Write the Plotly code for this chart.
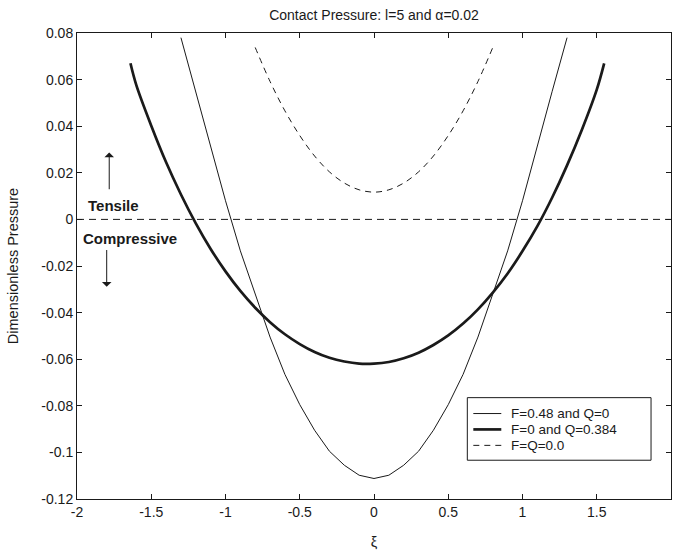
import plotly.graph_objects as go

# ---- data ----
x_thin = [-1.3, -1.2, -1.1, -1.0, -0.9, -0.8, -0.7, -0.6, -0.5, -0.4, -0.3, -0.2, -0.1, 0.0,
          0.1, 0.2, 0.3, 0.4, 0.5, 0.6, 0.7, 0.8, 0.9, 1.0, 1.1, 1.2, 1.3]
y_thin = [0.078, 0.055, 0.032, 0.008, -0.0135, -0.032, -0.0505, -0.0665, -0.0795, -0.0905,
          -0.0995, -0.1055, -0.1098, -0.1112, -0.1098, -0.1055, -0.0995, -0.0905, -0.0795,
          -0.0665, -0.0505, -0.032, -0.0135, 0.008, 0.032, 0.055, 0.078]

x_thick = [-1.64, -1.6, -1.5, -1.4, -1.3, -1.2, -1.1, -1.0, -0.9, -0.8, -0.7, -0.6, -0.5, -0.4,
           -0.3, -0.2, -0.1, 0.0, 0.1, 0.2, 0.3, 0.4, 0.5, 0.6, 0.7, 0.8, 0.9, 1.0, 1.1, 1.2,
           1.3, 1.4, 1.5, 1.55]
y_thick = [0.067, 0.0575, 0.0402, 0.0245, 0.0107, -0.0017, -0.0127, -0.0223, -0.0307, -0.0379,
           -0.0441, -0.0493, -0.0535, -0.0569, -0.0594, -0.0610, -0.0619, -0.0619, -0.0612,
           -0.0596, -0.0572, -0.0539, -0.0498, -0.0447, -0.0386, -0.0314, -0.0232, -0.0136,
           -0.0029, 0.0094, 0.0232, 0.0385, 0.0557, 0.067]

x_dash = [-0.8, -0.7, -0.6, -0.5, -0.4, -0.3, -0.2, -0.1, 0.0, 0.1, 0.2, 0.3, 0.4, 0.5, 0.6, 0.7, 0.8]
y_dash = [0.0738, 0.0592, 0.0466, 0.0360, 0.0272, 0.0204, 0.0156, 0.0127, 0.0117, 0.0127, 0.0156,
          0.0204, 0.0272, 0.0360, 0.0466, 0.0592, 0.0738]

x_zero = [-2, 2]
y_zero = [0, 0]

names = ["F=0.48 and Q=0", "F=0 and Q=0.384", "F=Q=0.0"]

x_ticks = [-2, -1.5, -1, -0.5, 0, 0.5, 1, 1.5, 2]
x_ticktext = ["-2", "-1.5", "-1", "-0.5", "0", "0.5", "1", "1.5", "2"]
y_ticks = [0.08, 0.06, 0.04, 0.02, 0, -0.02, -0.04, -0.06, -0.08, -0.1, -0.12]
y_ticktext = ["0.08", "0.06", "0.04", "0.02", "0", "-0.02", "-0.04", "-0.06", "-0.08", "-0.1", "-0.12"]

FONT = "Liberation Sans, Arial, Helvetica, sans-serif"
INK = "#1a1a1a"

fig = go.Figure()
fig.add_trace(go.Scatter(x=x_thin, y=y_thin, mode="lines", name=names[0],
                         line=dict(color=INK, width=1)))
fig.add_trace(go.Scatter(x=x_thick, y=y_thick, mode="lines", name=names[1],
                         line=dict(color=INK, width=2.7, shape="spline")))
fig.add_trace(go.Scatter(x=x_dash, y=y_dash, mode="lines", name=names[2],
                         line=dict(color=INK, width=1, dash="6px,5px", shape="spline")))
fig.add_trace(go.Scatter(x=x_zero, y=y_zero, mode="lines", showlegend=False,
                         line=dict(color=INK, width=1, dash="7px,5px")))

# arrows + labels
fig.add_annotation(x=-1.783, y=0.0287, ax=-1.783, ay=0.0123, axref="x", ayref="y",
                   xref="x", yref="y", text="", showarrow=True, arrowhead=1,
                   arrowsize=1.6, arrowwidth=1, arrowcolor=INK, standoff=0, startstandoff=0)
fig.add_annotation(x=-1.80, y=-0.0289, ax=-1.80, ay=-0.0125, axref="x", ayref="y",
                   xref="x", yref="y", text="", showarrow=True, arrowhead=1,
                   arrowsize=1.6, arrowwidth=1, arrowcolor=INK, standoff=0, startstandoff=0)
fig.add_annotation(x=-1.756, y=0.0059, xref="x", yref="y", text="<b>Tensile</b>",
                   showarrow=False, font=dict(family=FONT, size=15, color=INK))
fig.add_annotation(x=-1.644, y=-0.0083, xref="x", yref="y", text="<b>Compressive</b>",
                   showarrow=False, font=dict(family=FONT, size=15, color=INK))

# legend drawn as a boxed key (paper coordinates)
L_X0, L_X1, L_Y0, L_Y1 = 0.6571, 0.9664, 0.0832, 0.2175
row_y = [0.1834, 0.1493, 0.1151]
samp_x0, samp_x1, text_x = 0.6672, 0.7143, 0.7277
styles = [dict(width=1), dict(width=2.7), dict(width=1, dash="6px,5px")]
fig.add_shape(type="rect", xref="paper", yref="paper", x0=L_X0, x1=L_X1, y0=L_Y0, y1=L_Y1,
              line=dict(color=INK, width=1), fillcolor="white", layer="above")
for nm, ry, st in zip(names, row_y, styles):
    fig.add_shape(type="line", xref="paper", yref="paper", x0=samp_x0, x1=samp_x1,
                  y0=ry, y1=ry, line=dict(color=INK, **st), layer="above")
    fig.add_annotation(x=text_x, y=ry, xref="paper", yref="paper", text=nm,
                       showarrow=False, xanchor="left", yanchor="middle",
                       font=dict(family=FONT, size=13.5, color=INK))

axis_common = dict(showline=True, linecolor=INK, linewidth=1, mirror="ticks",
                   ticks="inside", ticklen=5, tickcolor=INK, showgrid=False,
                   zeroline=False, tickfont=dict(family=FONT, size=14, color=INK))

fig.update_layout(
    width=675, height=551,
    margin=dict(l=77, r=3, t=33, b=49),
    paper_bgcolor="white", plot_bgcolor="white",
    showlegend=False,
    title=dict(text="Contact Pressure: l=5 and \u03b1=0.02", xref="paper", x=0.5,
               xanchor="center", y=0.9728, yanchor="middle",
               font=dict(family=FONT, size=14, color=INK)),
    xaxis=dict(range=[-2, 2], tickvals=x_ticks, ticktext=x_ticktext,
               title=dict(text="\u03be", standoff=18, font=dict(family=FONT, size=14.5, color=INK)),
               **axis_common),
    yaxis=dict(range=[-0.12, 0.08], tickvals=y_ticks, ticktext=y_ticktext,
               title=dict(text="Dimensionless Pressure", standoff=19,
                          font=dict(family=FONT, size=14.5, color=INK)),
               **axis_common),
)

fig.write_html("out.html")
